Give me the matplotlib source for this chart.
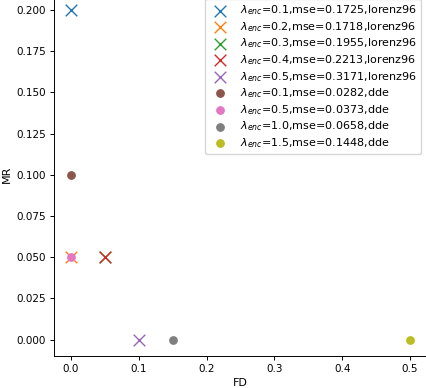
import matplotlib
matplotlib.use('Agg')
import matplotlib.pyplot as plt

# lorenz96 runs
lor_lambda = [0.1, 0.2, 0.3, 0.4, 0.5]
lor_mse = [0.1725, 0.1718, 0.1955, 0.2213, 0.3171]
lor_fd = [0.0, 0.0, 0.05, 0.05, 0.1]
lor_mr = [0.2, 0.05, 0.05, 0.05, 0.0]

# dde runs
dde_lambda = [0.1, 0.5, 1.0, 1.5]
dde_mse = [0.0282, 0.0373, 0.0658, 0.1448]
dde_fd = [0.0, 0.0, 0.15, 0.5]
dde_mr = [0.1, 0.05, 0.0, 0.0]

plt.rcParams['font.size'] = 8
plt.rcParams['axes.linewidth'] = 0.7
plt.rcParams['xtick.major.size'] = 2.8
plt.rcParams['ytick.major.size'] = 2.8
plt.rcParams['xtick.major.width'] = 0.7
plt.rcParams['ytick.major.width'] = 0.7

fig = plt.figure(figsize=(4.26, 3.88), dpi=100)
ax = fig.add_axes([54 / 426, 32 / 388, 373 / 426, 362.5 / 388])

for lam, mse, fd, mr in zip(lor_lambda, lor_mse, lor_fd, lor_mr):
    ax.scatter(fd, mr, marker='x', s=70, linewidths=1.0,
               label=r'$\lambda_{enc}$=%.1f,mse=%.4f,lorenz96' % (lam, mse))
for lam, mse, fd, mr in zip(dde_lambda, dde_mse, dde_fd, dde_mr):
    ax.scatter(fd, mr, marker='o', s=28,
               label=r'$\lambda_{enc}$=%.1f,mse=%.4f,dde' % (lam, mse))

ax.set_xlabel('FD', fontsize=8, labelpad=3)
ax.set_ylabel('MR', fontsize=8, labelpad=3)
ax.set_xticks([0.0, 0.1, 0.2, 0.3, 0.4, 0.5])
ax.set_yticks([0.0, 0.025, 0.05, 0.075, 0.1, 0.125, 0.15, 0.175, 0.2])
ax.tick_params(labelsize=7.5, pad=2.8)
ax.spines['top'].set_visible(False)
ax.spines['right'].set_visible(False)
ax.legend(loc='upper right', fontsize=8, labelspacing=0.25)

fig.savefig('out.png', dpi=100)
